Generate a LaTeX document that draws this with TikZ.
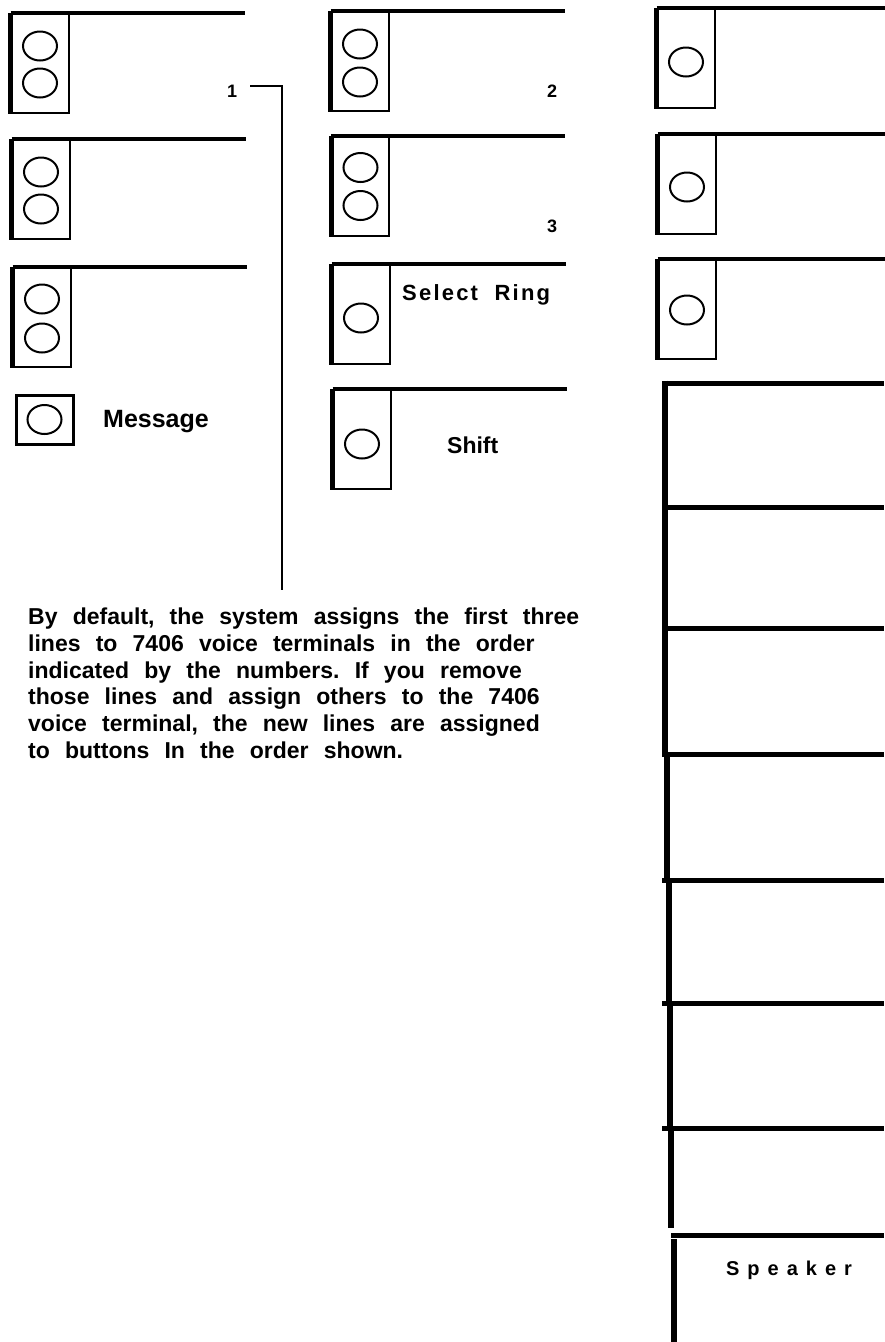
\documentclass[tikz,border=0pt]{standalone}
\usepackage{fontspec}
\setmainfont{Liberation Sans}
\usetikzlibrary{positioning,shapes.geometric}

\newcommand\widespaces{\frenchspacing\spaceskip=0.66em\relax}

\tikzset{
  lampbox/.style={rectangle, draw, line width=2pt, minimum width=57pt,
                  minimum height=99pt, inner sep=0pt},
  lamp/.style={ellipse, draw, line width=2pt, minimum width=34pt,
               minimum height=29pt, inner sep=0pt},
  rail/.style={line width=4pt},
  edge/.style={line width=5pt},
  keyline/.style={line width=5pt},
  keyside/.style={line width=6pt},
  lead/.style={line width=2.5pt},
  num/.style={font=\fontsize{18}{18}\selectfont\bfseries, inner sep=0pt, anchor=base west},
  tag/.style={font=\fontsize{23}{23}\selectfont\bfseries, inner sep=0pt, anchor=base west},
}

\begin{document}
\begin{tikzpicture}[x=1pt, y=-1pt]
  \useasboundingbox (0,0) rectangle (884,1342);

  % left column: three two-lamp buttons and Message
  \node[lampbox] (a1) at (40,63) {};
  \node[lampbox] (a2) at (41,189) {};
  \node[lampbox] (a3) at (42,317) {};
  \node[lamp] (a1t) at ([yshift=17pt]a1) {};
  \node[lamp] (a1b) at ([yshift=-20pt]a1) {};
  \node[lamp] (a2t) at ([yshift=17pt]a2) {};
  \node[lamp] (a2b) at ([yshift=-20pt]a2) {};
  \node[lamp] (a3t) at ([yshift=18pt]a3) {};
  \node[lamp] (a3b) at ([yshift=-21pt]a3) {};
  \draw[edge] (a1.north west) -- (a1.south west);
  \draw[edge] (a2.north west) -- (a2.south west);
  \draw[edge] (a3.north west) -- (a3.south west);
  \draw[rail] (a1.north west) -- ++(234,0);
  \draw[rail] (a2.north west) -- ++(234,0);
  \draw[rail] (a3.north west) -- ++(234,0);
  \node[lampbox, line width=3pt, minimum height=49pt] (msg) at (44.5,419.5) {};
  \node[lamp] (msgl) at (msg) {};
  \node[tag, font=\fontsize{25}{25}\selectfont\bfseries] (msgt) at (103,427) {Message};

  % middle column
  \node[lampbox] (b1) at (360,61) {};
  \node[lampbox] (b2) at (360.5,186.5) {};
  \node[lampbox] (b3) at (361,314) {};
  \node[lampbox] (b4) at (362,439) {};
  \node[lamp] (b1t) at ([yshift=17pt]b1) {};
  \node[lamp] (b1b) at ([yshift=-21pt]b1) {};
  \node[lamp] (b2t) at ([yshift=19pt]b2) {};
  \node[lamp] (b2b) at ([yshift=-19pt]b2) {};
  \node[lamp] (b3l) at ([yshift=-4pt]b3) {};
  \node[lamp] (b4l) at ([yshift=-5pt]b4) {};
  \draw[edge] (b1.north west) -- (b1.south west);
  \draw[edge] (b2.north west) -- (b2.south west);
  \draw[edge] (b3.north west) -- (b3.south west);
  \draw[edge] (b4.north west) -- (b4.south west);
  \draw[rail] (b1.north west) -- ++(234,0);
  \draw[rail] (b2.north west) -- ++(234,0);
  \draw[rail] (b3.north west) -- ++(234,0);
  \draw[rail] (b4.north west) -- ++(234,0);
  \node[num] (n2) at (547,97) {2};
  \node[num] (n3) at (547,232) {3};
  \node[tag, font=\fontsize{22}{22}\selectfont\bfseries\addfontfeatures{LetterSpace=10}] (ring) at (402,300) {Select\ \ Ring};
  \node[tag] (shift) at (447,453) {Shift};

  % right column: single-lamp buttons
  \node[lampbox] (c1) at (686,58) {};
  \node[lampbox] (c2) at (687,184) {};
  \node[lampbox] (c3) at (687,309) {};
  \node[lamp] (c1l) at ([yshift=-4pt]c1) {};
  \node[lamp] (c2l) at ([yshift=-3pt]c2) {};
  \node[lamp] (c3l) at ([yshift=-1pt]c3) {};
  \draw[edge] (c1.north west) -- (c1.south west);
  \draw[edge] (c2.north west) -- (c2.south west);
  \draw[edge] (c3.north west) -- (c3.south west);
  \draw[rail] (c1.north west) -- ++(230,0);
  \draw[rail] (c2.north west) -- ++(230,0);
  \draw[rail] (c3.north west) -- ++(230,0);

  % right column: blank keys and Speaker
  \foreach \y in {383,507,628,754,880,1003,1128}
    \draw[keyline] (662,\y) -- (884,\y);
  \draw[keyside] (665,380.5) -- (665,756);
  \draw[keyside] (667,754) -- (667,880);
  \draw[keyside] (669,880) -- (669,1003);
  \draw[keyside] (670,1003) -- (670,1130);
  \draw[keyside] (671,1128) -- (671,1228);
  \draw[keyline] (671,1235) -- (884,1235);
  \draw[keyside] (674,1239) -- (674,1342);
  \node[font=\fontsize{20}{20}\selectfont\bfseries\addfontfeatures{LetterSpace=40}, inner sep=0pt] (spk) at (789,1270) {Speaker};

  % order note
  \node[num] (n1) at (227,97) {1};
  \coordinate (leadend) at (282,590);
  \draw[lead] ([shift={(13pt,11pt)}]n1.base east) -| (leadend);
  \node[anchor=north west, inner sep=0pt, align=left,
        font=\fontsize{23}{26.7}\selectfont\bfseries\widespaces]
    (note) at (28,608)
    {By default, the system assigns the first three\\
     lines to 7406 voice terminals in the order\\
     indicated by the numbers. If you remove\\
     those lines and assign others to the 7406\\
     voice terminal, the new lines are assigned\\
     to buttons In the order shown.};
\end{tikzpicture}
\end{document}
